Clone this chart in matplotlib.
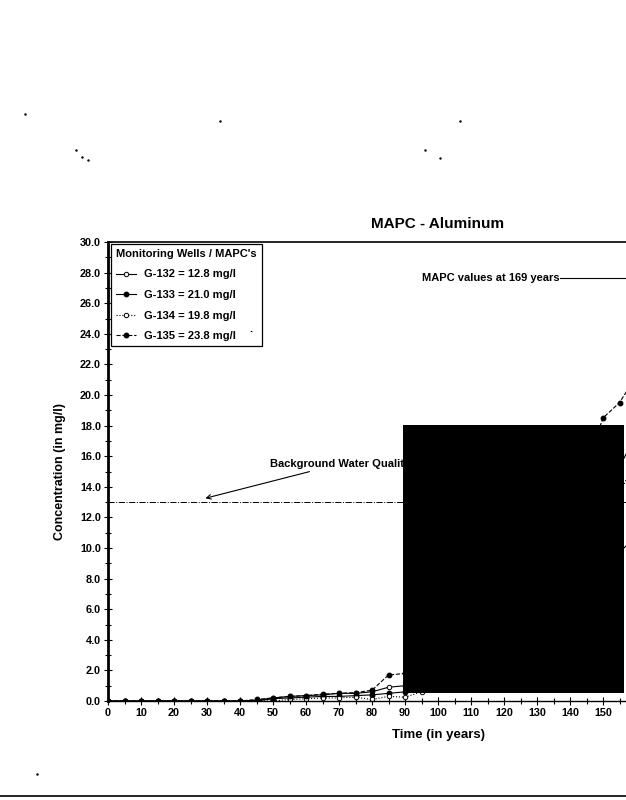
import matplotlib
matplotlib.use("Agg")
import matplotlib.pyplot as plt
from matplotlib.lines import Line2D
from matplotlib.patches import Rectangle
from matplotlib.ticker import MultipleLocator, FormatStrFormatter, FixedLocator

plt.rcParams['font.family'] = ['Liberation Sans', 'DejaVu Sans']
plt.rcParams['font.weight'] = 'bold'

years = [0, 5, 10, 15, 20, 25, 30, 35, 40, 45, 50, 55, 60, 65, 70, 75, 80, 85,
         90, 95, 100, 105, 110, 115, 120, 125, 130, 135, 140, 145, 150, 155, 160, 165, 169]
g132 = [0, 0, 0, 0, 0, 0, 0, 0, 0, 0.05, 0.2, 0.3, 0.35, 0.4, 0.5, 0.5, 0.6, 0.9,
        1.0, 1.3, 1.6, 2.0, 2.5, 3.0, 3.6, 4.2, 5.0, 5.8, 6.7, 7.7, 8.7, 9.7, 10.8, 11.9, 12.8]
g133 = [0, 0, 0, 0, 0, 0, 0, 0, 0, 0, 0.15, 0.2, 0.25, 0.3, 0.3, 0.35, 0.4, 0.5,
        0.6, 0.9, 1.3, 1.8, 2.5, 3.3, 4.3, 5.4, 6.7, 8.1, 9.7, 11.4, 13.3, 15.3, 17.4, 19.5, 21.0]
g134 = [0, 0, 0, 0, 0, 0, 0, 0, 0, 0, 0, 0.1, 0.15, 0.2, 0.2, 0.25, 0.1, 0.3,
        0.25, 0.6, 1.0, 1.5, 2.1, 2.8, 3.7, 4.7, 5.8, 7.0, 8.4, 10.0, 11.7, 13.6, 15.7, 17.9, 19.8]
g135 = [0, 0, 0, 0, 0, 0, 0, 0, 0, 0.1, 0.2, 0.3, 0.35, 0.45, 0.5, 0.55, 0.7, 1.7,
        1.8, 2.5, 3.2, 4.0, 5.0, 6.0, 7.2, 8.5, 10.0, 11.6, 13.4, 15.5, 18.5, 19.5, 21.2, 22.6, 23.8]

series_labels = ["G-132 = 12.8 mg/l", "G-133 = 21.0 mg/l", "G-134 = 19.8 mg/l", "G-135 = 23.8 mg/l"]
x_tick_values = [0, 10, 20, 30, 40, 50, 60, 70, 80, 90, 100, 110, 120, 130, 140, 150]
background_level = 13.0
mapc_year = 169
mapc_label_y = 27.65

fig = plt.figure(figsize=(6.26, 8.0), dpi=100)
ax = fig.add_axes([108/626, 1-701/800, 660/626, 459/800])

ms = 3.2
ax.plot(years, g132, color='black', lw=0.8, ls='-', marker='o', mfc='white', mec='black', ms=ms, mew=0.7, label=series_labels[0])
ax.plot(years, g133, color='black', lw=0.8, ls='-', marker='o', mfc='black', mec='black', ms=ms, label=series_labels[1])
ax.plot(years, g134, color='black', lw=0.8, ls=':', marker='o', mfc='white', mec='black', ms=ms, mew=0.7, label=series_labels[2])
ax.plot(years, g135, color='black', lw=0.8, ls='--', marker='o', mfc='black', mec='black', ms=ms, label=series_labels[3])

ax.axhline(background_level, color='black', lw=0.7, ls='-.')
ax.annotate("Background Water Quality", xy=(29.5, 13.25), xytext=(49, 15.5),
            fontsize=8, fontweight='bold', va='center', ha='left',
            arrowprops=dict(arrowstyle='->', color='black', lw=0.8, shrinkA=0, shrinkB=0))

ax.text(95, mapc_label_y, "MAPC values at 169 years", fontsize=8, fontweight='bold', va='center', ha='left')
ax.plot([137, mapc_year], [mapc_label_y, mapc_label_y], color='black', lw=0.8)

ax.set_xlim(0, 200)
ax.set_ylim(0, 30)
ax.xaxis.set_major_locator(FixedLocator(x_tick_values))
ax.xaxis.set_minor_locator(MultipleLocator(5))
ax.yaxis.set_major_locator(MultipleLocator(2))
ax.yaxis.set_minor_locator(MultipleLocator(1))
ax.yaxis.set_major_formatter(FormatStrFormatter('%.1f'))
ax.tick_params(axis='both', which='major', direction='inout', length=6, width=0.8, labelsize=7.8, pad=2)
ax.tick_params(axis='both', which='minor', direction='inout', length=4, width=0.8)
for lab in ax.get_xticklabels() + ax.get_yticklabels():
    lab.set_fontweight('bold')
ax.spines['left'].set_linewidth(2.0)
ax.spines['bottom'].set_linewidth(1.0)
ax.spines['top'].set_linewidth(1.2)

ax.set_title("MAPC - Aluminum", fontsize=11, fontweight='bold', y=1.013)
ax.set_xlabel("Time (in years)", fontsize=9.5, fontweight='bold')
ax.xaxis.set_label_coords(0.5, -0.060)
ax.set_ylabel("Concentration (in mg/l)", fontsize=9, fontweight='bold')
ax.yaxis.set_label_coords(-0.064, 0.5)

leg = ax.legend(loc='upper left', bbox_to_anchor=(0.0045, 0.996), borderaxespad=0,
                title="Monitoring Wells / MAPC's", fontsize=8, title_fontsize=8,
                fancybox=False, edgecolor='black', framealpha=1, handlelength=1.8,
                handletextpad=0.7, labelspacing=0.95, borderpad=0.45, alignment='left')
leg.get_frame().set_linewidth(0.9)
leg.get_title().set_fontweight('bold')
for t in leg.get_texts():
    t.set_fontweight('bold')
fig.text(251/626, 1-334/800, ".", fontsize=8, fontweight='bold', ha='center', va='bottom', zorder=5)

# redaction block from the scanned page
fig.patches.append(Rectangle((403/626, 1-693/800), 221/626, 268/800, transform=fig.transFigure,
                             facecolor='black', edgecolor='none', zorder=10))
# page edge line at bottom of scan
fig.add_artist(Line2D([0, 1], [1-796/800, 1-796/800], color='black', lw=1.2, transform=fig.transFigure))
# small scan specks
for (px, py) in [(25, 114), (220, 121), (460, 121), (37, 774), (76, 150), (82, 157), (88, 160), (425, 150), (440, 158)]:
    fig.add_artist(Line2D([px/626], [1-py/800], marker='s', ms=0.7, color='black', lw=0, transform=fig.transFigure))

fig.savefig("out.png", dpi=100)
